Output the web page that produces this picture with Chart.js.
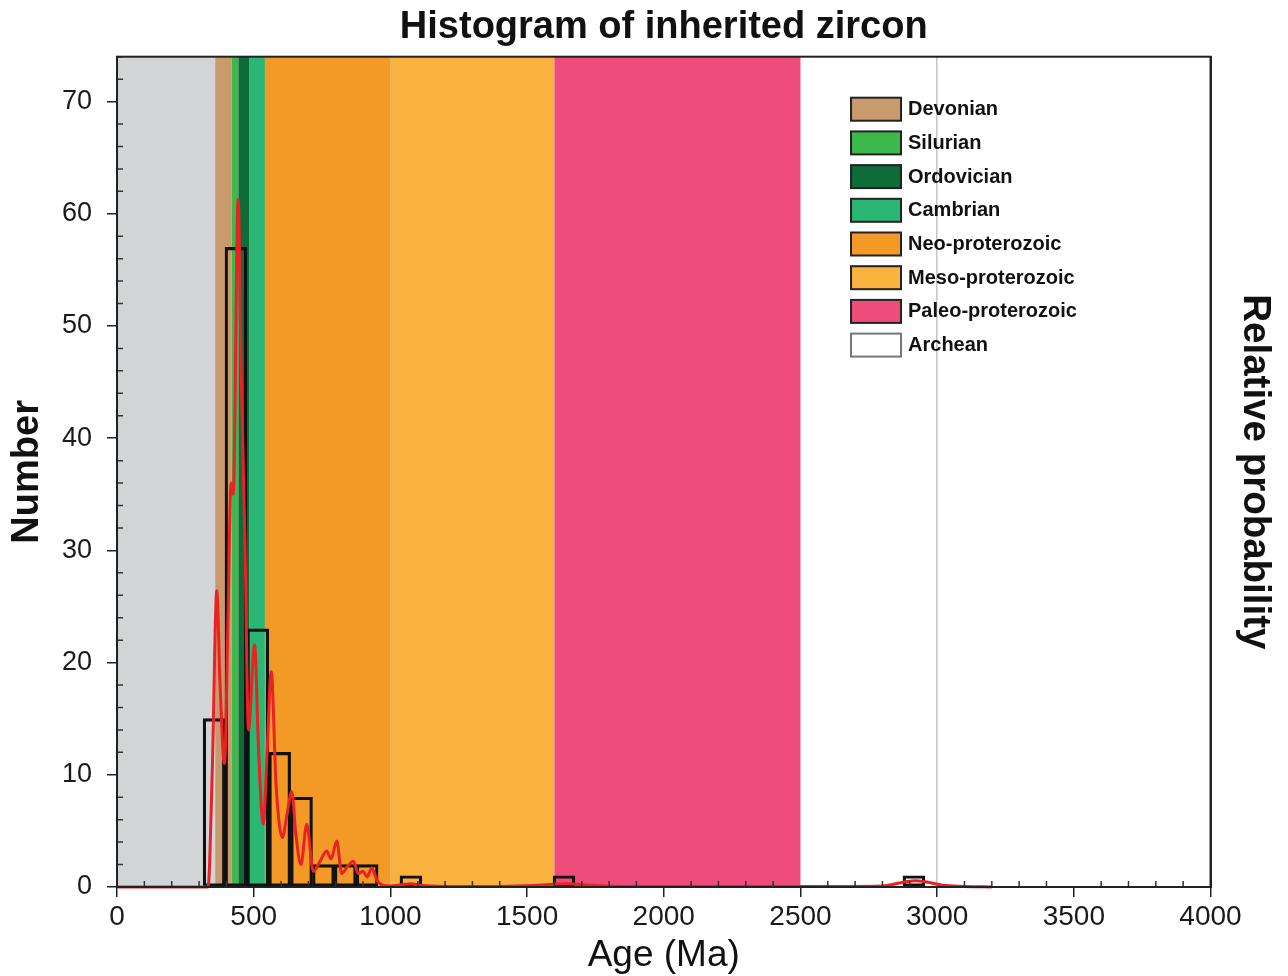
<!DOCTYPE html>
<html>
<head>
<meta charset="utf-8">
<script src="https://cdn.jsdelivr.net/npm/chart.js@4.4.1/dist/chart.umd.min.js"></script>
<style>
  html, body { margin: 0; padding: 0; background: #fff; }
</style>
</head>
<body>
<canvas id="canvas" width="1288" height="976"></canvas>
<script>
// histogram bins (Ma)
var binStart = 315;
var binWidth = 80;
var binCounts = [15, 57, 23, 12, 8, 2, 2, 2, 0, 1,
                 0, 0, 0, 0, 0, 0, 1, 0, 0, 0,
                 0, 0, 0, 0, 0, 0, 0, 0, 0, 0,
                 0, 0, 1];

// relative probability curve
var probAges = [0, 300, 333, 348, 365, 377, 393, 406, 417, 425, 443, 454, 468, 481, 503, 518,
                535, 549, 564, 582, 605, 622, 639, 655, 673, 694, 718, 743, 767, 783, 804,
                822, 842, 865, 882, 900, 915, 932, 951, 973, 1000, 1040, 1075, 1110, 1200,
                1400, 1540, 1600, 1650, 1700, 1850, 2500, 2800, 2880, 2920, 2960, 3020, 3100, 3200];
var probValues = [0, 0, 0, 10, 26.4, 18, 11, 24, 36, 35, 61.3, 46, 30.8, 14, 21.6, 12,
                  5.6, 12, 19.2, 9, 4.4, 6.5, 8.5, 4.5, 2, 5.6, 1.4, 2.3, 3.2, 2.5, 4.1,
                  1.2, 1.8, 2.3, 1.2, 1.4, 0.9, 1.7, 0.6, 0.15, 0.1, 0.2, 0.3, 0.15, 0.05,
                  0.05, 0.15, 0.25, 0.3, 0.2, 0.05, 0.05, 0.1, 0.45, 0.55, 0.45, 0.15, 0.05, 0];

// geologic time bands
var bandNames = [null, 'Devonian', 'Silurian', 'Ordovician', 'Cambrian',
                 'Neo-proterozoic', 'Meso-proterozoic', 'Paleo-proterozoic', 'Archean'];
var bandStart = [0, 359, 419, 444, 485, 541, 1000, 1600, 2500];
var bandEnd   = [359, 419, 444, 485, 541, 1000, 1600, 2500, 4000];
var bandColors = ['#d3d4d6', '#c99a6c', '#3db84c', '#0f6b38', '#2cb673',
                  '#f39a26', '#f8b23d', '#ee4d7b', 'transparent'];

var FONT = "'Liberation Sans', Arial, sans-serif";

var histData = [];
binCounts.forEach(function (c, i) {
  if (c > 0) histData.push({x: binStart + binWidth * i + binWidth / 2, y: c});
});
var probData = probAges.map(function (a, i) { return {x: a, y: probValues[i]}; });

var bandsPlugin = {
  id: 'bands',
  beforeDatasetsDraw: function (chart) {
    var ctx = chart.ctx, area = chart.chartArea, x = chart.scales.x;
    ctx.save();
    ctx.beginPath();
    ctx.rect(area.left, area.top, area.right - area.left, area.bottom - area.top);
    ctx.clip();
    for (var i = 0; i < bandNames.length; i++) {
      if (bandColors[i] === 'transparent') continue;
      var x0 = x.getPixelForValue(bandStart[i]);
      var x1 = x.getPixelForValue(bandEnd[i]);
      ctx.fillStyle = bandColors[i];
      ctx.fillRect(x0, area.top, x1 - x0, area.bottom - area.top);
    }
    ctx.restore();
  },
  afterDatasetsDraw: function (chart) {
    var ctx = chart.ctx, area = chart.chartArea;
    var xs = chart.scales.x, ys = chart.scales.y;
    ctx.save();
    // minor ticks inside the frame
    ctx.strokeStyle = '#333';
    ctx.lineWidth = 1.5;
    ctx.beginPath();
    xs.ticks.forEach(function (t) {
      if (t.value % 500 === 0) return;
      var px = xs.getPixelForValue(t.value);
      ctx.moveTo(px, area.bottom);
      ctx.lineTo(px, area.bottom - 6);
    });
    ys.ticks.forEach(function (t) {
      if (t.value % 10 === 0) return;
      var py = ys.getPixelForValue(t.value);
      ctx.moveTo(area.left, py);
      ctx.lineTo(area.left + 6, py);
    });
    ctx.stroke();
    // frame
    ctx.strokeStyle = '#222';
    ctx.lineWidth = 2;
    ctx.strokeRect(area.left, area.top, area.right - area.left, area.bottom - area.top);
    // legend
    var lx = area.left + 734, ly = area.top + 41, k = 0;
    ctx.font = 'bold 20px ' + FONT;
    ctx.textBaseline = 'middle';
    for (var i = 0; i < bandNames.length; i++) {
      if (!bandNames[i]) continue;
      var top = ly + k * 33.7;
      ctx.fillStyle = bandColors[i] === 'transparent' ? '#ffffff' : bandColors[i];
      ctx.fillRect(lx, top, 50, 23);
      ctx.strokeStyle = bandColors[i] === 'transparent' ? '#777' : '#222';
      ctx.lineWidth = 2;
      ctx.strokeRect(lx, top, 50, 23);
      ctx.fillStyle = '#111';
      ctx.fillText(bandNames[i], lx + 57, top + 12);
      k++;
    }
    ctx.restore();
  }
};

new Chart(document.getElementById('canvas').getContext('2d'), {
  type: 'bar',
  data: {
    datasets: [{
      type: 'line',
      label: 'Relative probability',
      data: probData,
      yAxisID: 'y2',
      borderColor: '#ea2224',
      borderWidth: 3,
      pointRadius: 0,
      fill: false,
      cubicInterpolationMode: 'monotone',
      clip: 4,
      order: 0
    }, {
      label: 'Number',
      data: histData,
      yAxisID: 'y',
      backgroundColor: 'rgba(0,0,0,0)',
      borderColor: '#111',
      borderWidth: 2.5,
      borderSkipped: false,
      barPercentage: 1,
      categoryPercentage: 1,
      order: 1
    }]
  },
  options: {
    responsive: false,
    animation: false,
    devicePixelRatio: 1,
    layout: { padding: 0 },
    plugins: {
      legend: { display: false },
      tooltip: { enabled: false },
      title: {
        display: true,
        fullSize: false,
        text: 'Histogram of inherited zircon',
        color: '#111',
        font: { family: FONT, size: 38, weight: 'bold', lineHeight: 1.15 },
        padding: { top: 6, bottom: 7 }
      }
    },
    scales: {
      x: {
        type: 'linear',
        offset: false,
        min: 0,
        max: 4000,
        ticks: {
          stepSize: 100,
          autoSkip: false,
          maxRotation: 0,
          padding: 6,
          color: '#1a1a1a',
          font: { family: FONT, size: 28, lineHeight: 1 },
          callback: function (v) { return v % 500 === 0 ? v : ''; }
        },
        grid: {
          offset: false,
          color: function (c) {
            var v = c.tick ? c.tick.value : 0;
            return (v % 1000 === 0 && v > 0 && v < 4000) ? '#c6c6c6' : 'rgba(0,0,0,0)';
          },
          tickColor: function (c) {
            return c.tick && c.tick.value % 500 === 0 ? '#222' : 'rgba(0,0,0,0)';
          },
          tickLength: 10,
          lineWidth: 1.5
        },
        border: { display: true, color: '#222', width: 2 },
        title: {
          display: true,
          text: 'Age (Ma)',
          color: '#111',
          font: { family: FONT, size: 37, lineHeight: 1 },
          padding: { top: 0, bottom: 2 }
        }
      },
      y: {
        position: 'left',
        min: 0,
        max: 74,
        ticks: {
          stepSize: 2,
          autoSkip: false,
          padding: 15,
          color: '#1a1a1a',
          font: { family: FONT, size: 27, lineHeight: 1 },
          callback: function (v) { return v % 10 === 0 ? v : ''; }
        },
        grid: {
          color: 'rgba(0,0,0,0)',
          tickColor: function (c) {
            return c.tick && c.tick.value % 10 === 0 ? '#222' : 'rgba(0,0,0,0)';
          },
          tickLength: 10,
          lineWidth: 1.5
        },
        border: { display: true, color: '#222', width: 2 },
        title: {
          display: true,
          text: 'Number',
          color: '#111',
          font: { family: FONT, size: 38, weight: 'bold', lineHeight: 1 },
          padding: { top: 9, bottom: 0 }
        }
      },
      y2: {
        position: 'right',
        min: 0,
        max: 74,
        ticks: { display: false },
        grid: { display: false, drawTicks: false },
        border: { display: true, color: '#222', width: 2 },
        title: {
          display: true,
          text: 'Relative probability',
          color: '#111',
          font: { family: FONT, size: 38.5, weight: 'bold', lineHeight: 1 },
          padding: { top: 14, bottom: 25 }
        }
      }
    }
  },
  plugins: [bandsPlugin]
});
</script>
</body>
</html>
